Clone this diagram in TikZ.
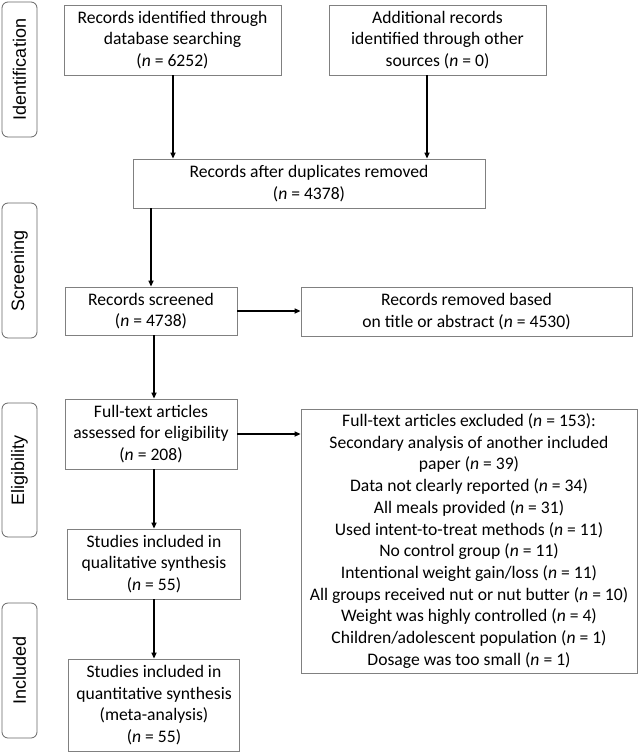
\documentclass[tikz,border=0pt]{standalone}
\usepackage{fontspec}
\setmainfont{Carlito}
\newfontfamily\sidefont{Liberation Sans}
\usetikzlibrary{arrows.meta,calc}
\begin{document}
\begin{tikzpicture}[x=1pt,y=-1pt,
  box/.style={draw=black!50,line width=0.8pt,fill=white,align=center,inner sep=0pt,
    font=\fontsize{17.6}{21.7}\selectfont},
  side/.style={draw=black!60,line width=0.8pt,rounded corners=6pt,minimum width=35pt,
    font=\sidefont\fontsize{18}{20}\selectfont,rotate=90,inner sep=0pt},
  arr/.style={line width=1.8pt,-{Triangle[length=6pt,width=5pt]}}]
\useasboundingbox[fill=white] (0,0) rectangle (639,752);
% side labels
\node[side,minimum height=35pt,minimum width=135pt] (sid) at (19.5,69.5) {Identification};
\node[side,minimum height=35pt,minimum width=135pt] (sscr) at (19.5,270.5) {Screening};
\node[side,minimum height=35pt,minimum width=134pt] (selig) at (19.5,470) {Eligibility};
\node[side,minimum height=35pt,minimum width=135pt] (sinc) at (19.5,670.5) {Included};
% boxes
\node[box,minimum width=217pt,minimum height=70pt] (b1) at (172.5,40)
  {Records identified through\\database searching\\(\textit{n} = 6252)};
\node[box,minimum width=217pt,minimum height=70pt] (b2) at (437.5,40)
  {Additional records\\identified through other\\sources (\textit{n} = 0)};
\node[box,minimum width=352pt,minimum height=49pt] (b3) at (309,183.5)
  {Records after duplicates removed\\(\textit{n} = 4378)};
\node[box,minimum width=172pt,minimum height=48pt] (b4) at (151,311)
  {Records screened\\(\textit{n} = 4738)};
\node[box,minimum width=331pt,minimum height=49pt] (b5) at (466.5,311.5)
  {Records removed based\\on title or abstract (\textit{n} = 4530)};
\node[box,minimum width=172pt,minimum height=70pt] (b6) at (151,434)
  {Full-text articles\\assessed for eligibility\\(\textit{n} = 208)};
\node[box,minimum width=336pt,minimum height=264pt] (b7) at (469,541)
  {Full-text articles excluded (\textit{n} = 153):\\
   Secondary analysis of another included\\
   paper (\textit{n} = 39)\\
   Data not clearly reported (\textit{n} = 34)\\
   All meals provided (\textit{n} = 31)\\
   Used intent-to-treat methods (\textit{n} = 11)\\
   No control group (\textit{n} = 11)\\
   Intentional weight gain/loss (\textit{n} = 11)\\
   All groups received nut or nut butter (\textit{n} = 10)\\
   Weight was highly controlled (\textit{n} = 4)\\
   Children/adolescent population (\textit{n} = 1)\\
   Dosage was too small (\textit{n} = 1)};
\node[box,minimum width=173pt,minimum height=70pt] (b8) at (154,564)
  {Studies included in\\qualitative synthesis\\(\textit{n} = 55)};
\node[box,minimum width=171pt,minimum height=92pt] (b9) at (154,705)
  {Studies included in\\quantitative synthesis\\(meta-analysis)\\(\textit{n} = 55)};
% connectors
\coordinate (a1) at ($(b1.south)+(0.5,0)$);
\draw[arr] (a1) -- (a1 |- b3.north);
\coordinate (a2) at ($(b2.south)+(-10.5,0)$);
\draw[arr] (a2) -- (a2 |- b3.north);
\draw[arr] (b4.north |- b3.south) -- (b4.north);
\draw[arr] (b4.east) -- (b4.east -| b5.west);
\coordinate (a4) at ($(b4.south)+(3,0)$);
\draw[arr] (a4) -- (a4 |- b6.north);
\draw[arr] (b6.east) -- (b6.east -| b7.west);
\draw[arr] (b8.north |- b6.south) -- (b8.north);
\draw[arr] (b8.south) -- (b8.south |- b9.north);
\end{tikzpicture}
\end{document}
